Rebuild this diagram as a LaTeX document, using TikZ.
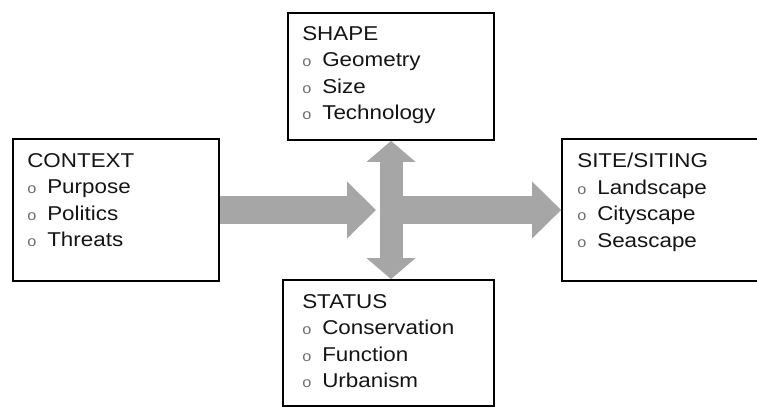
\documentclass[tikz,border=0pt]{standalone}
\usepackage{fontspec}
\setmainfont{Liberation Sans}[FakeStretch=1.12]
\usetikzlibrary{calc}
\usetikzlibrary{arrows.meta}
\definecolor{arrowgray}{RGB}{166,166,166}
\definecolor{bulletgray}{RGB}{110,110,110}
\definecolor{textgray}{RGB}{20,20,20}
\newcommand{\bul}[1]{\makebox[20pt][l]{\textcolor{bulletgray}{\fontsize{14.5}{14.5}\selectfont o}}#1}

\begin{document}
\begin{tikzpicture}[x=1pt,y=-1pt,
    box/.style={draw=black, line width=1.8pt, inner sep=0pt, minimum width=206pt, minimum height=142pt},
    boxtext/.style={anchor=north west, inner sep=0pt, align=left, text=textgray, font=\fontsize{20}{26.5}\selectfont},
    fatarrow/.style={draw=arrowgray, line width=28pt, -{Triangle[length=29pt, width=57pt, line width=0pt]}},
    twoway/.style={draw=arrowgray, line width=23pt, {Triangle[length=21pt, width=49pt, line width=0pt]}-{Triangle[length=21pt, width=49pt, line width=0pt]}}]
    \useasboundingbox (0,0) rectangle (757,409);
    %boxes
    \node[box] (context) at (116,210) {};
    \node[box, minimum height=127pt] (shape) at (391,76.5) {};
    \node[box, minimum width=211pt, minimum height=126pt] (status) at (388.5,343) {};
    \node[box] (site) at (665,210) {};
    %lists
    \node[boxtext] (context text) at ($(context.north west)+(15,15)$) {CONTEXT\\\bul{Purpose}\\\bul{Politics}\\\bul{Threats}};
    \node[boxtext] (shape text) at ($(shape.north west)+(15,14)$) {SHAPE\\\bul{Geometry}\\\bul{Size}\\\bul{Technology}};
    \node[boxtext] (status text) at ($(status.north west)+(20,15)$) {STATUS\\\bul{Conservation}\\\bul{Function}\\\bul{Urbanism}};
    \node[boxtext] (site text) at ($(site.north west)+(16,15)$) {SITE/SITING\\\bul{Landscape}\\\bul{Cityscape}\\\bul{Seascape}};
    %arrows
    \coordinate (hub) at (shape.south |- context.east);
    \draw[fatarrow] (context.east) -- ($(hub)+(-15,0)$);
    \draw[fatarrow] (hub) -- (site.west);
    \draw[twoway] (shape.south) -- (shape.south |- status.north);
\end{tikzpicture}
\end{document}
